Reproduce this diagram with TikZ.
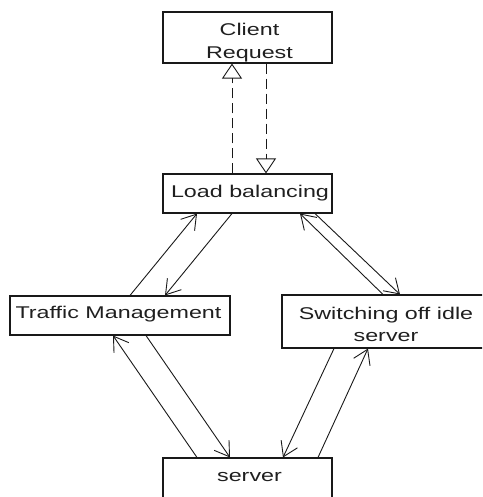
\documentclass[tikz,border=0pt]{standalone}
\usepackage{fontspec}
\setmainfont{Liberation Sans}[FakeStretch=1.37]
\usetikzlibrary{arrows.meta}
\begin{document}
\begin{tikzpicture}[x=1pt,y=-1pt,
  box/.style={draw=black!90, line width=1.1pt, rectangle, inner sep=0pt},
  lbl/.style={inner sep=0pt, anchor=base, align=center, font=\fontsize{17}{22.5}\selectfont, text=black!88},
  flow/.style={draw=black!90, line width=0.9pt, -{Straight Barb[length=14pt,width=18pt,line width=0.9pt]}},
  call/.style={draw=black!90, line width=0.9pt, dash pattern=on 10pt off 5pt, -{Triangle[open,length=15pt,width=20pt,line width=0.9pt]}}
]
\useasboundingbox (0,0) rectangle (482,497);
\clip (0,0) rectangle (482,497);

% boxes
\node[box, minimum width=169pt, minimum height=51pt] (client) at (247.5,37.5) {};
\node[box, minimum width=169pt, minimum height=39pt] (lb) at (247.5,193.5) {};
\node[box, minimum width=220pt, minimum height=39pt] (tm) at (120,315.5) {};
\node[box, minimum width=206pt, minimum height=53pt] (sw) at (385,321.5) {};
\node[box, minimum width=169pt, minimum height=42pt] (srv) at (247.5,479) {};

% labels (base anchor = baseline of the last line)
\node[lbl] (client-t) at (249.5,58.3) {Client\\Request};
\node[lbl] (lb-t) at (250,197) {Load balancing};
\node[lbl] (tm-t) at (118.5,318.3) {Traffic Management};
\node[lbl] (sw-t) at (386,341.7) {Switching off idle\\server};
\node[lbl] (srv-t) at (249.5,481) {server};

% dashed request/response
\draw[call] ([xshift=-15.5pt]lb.north) -- ([xshift=-15.5pt]client.south);
\draw[call] ([xshift=18.5pt]client.south) -- ([xshift=18.5pt]lb.north);

% load balancing <-> traffic management
\draw[flow] ([xshift=10pt]tm.north) -- ([xshift=-50.5pt]lb.south);
\draw[flow] ([xshift=-15.5pt]lb.south) -- ([xshift=45pt]tm.north);

% load balancing <-> switching off
\draw[flow] ([xshift=-2pt]sw.north) -- ([xshift=52.5pt]lb.south);
\draw[flow] ([xshift=67.5pt]lb.south) -- ([xshift=15pt]sw.north);

% traffic management <-> server
\draw[flow] ([xshift=-50.5pt]srv.north) -- ([xshift=-7pt]tm.south);
\draw[flow] ([xshift=26pt]tm.south) -- ([xshift=-17.5pt]srv.north);

% switching off <-> server
\draw[flow] ([xshift=-51pt]sw.south) -- ([xshift=35.5pt]srv.north);
\draw[flow] ([xshift=70.5pt]srv.north) -- ([xshift=-17pt]sw.south);
\end{tikzpicture}
\end{document}
